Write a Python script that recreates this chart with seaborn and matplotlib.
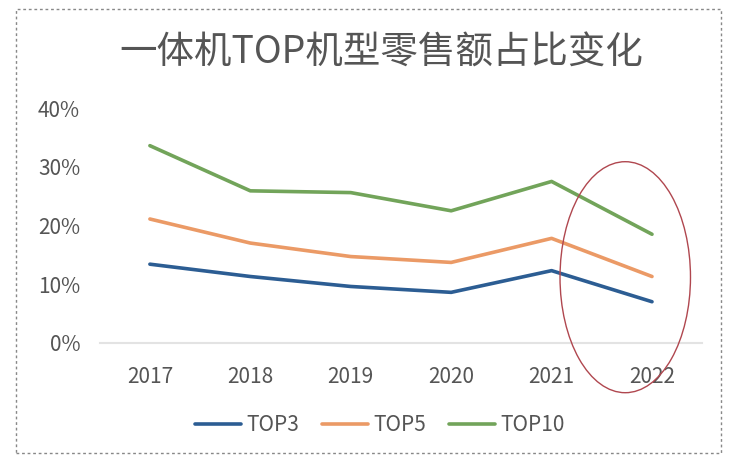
import matplotlib
matplotlib.use("Agg")
import matplotlib.pyplot as plt
import seaborn as sns
import pandas as pd
from matplotlib.patches import Ellipse, Rectangle
from matplotlib.ticker import PercentFormatter

years = ["2017", "2018", "2019", "2020", "2021", "2022"]
top3 = [13.4, 11.3, 9.6, 8.6, 12.3, 7.0]
top5 = [21.1, 17.0, 14.7, 13.7, 17.8, 11.3]
top10 = [33.6, 25.9, 25.6, 22.5, 27.5, 18.5]
series_names = ["TOP3", "TOP5", "TOP10"]
title = "一体机TOP机型零售额占比变化"
yticks = [0, 10, 20, 30, 40]

sns.set_theme(style="white")
plt.rcParams["font.family"] = ["Noto Sans CJK SC", "DejaVu Sans"]

df = pd.DataFrame({"year": years * 3,
                   "value": top3 + top5 + top10,
                   "series": [series_names[0]] * 6 + [series_names[1]] * 6 + [series_names[2]] * 6})

fig = plt.figure(figsize=(7.33, 4.62), dpi=100)
ax = fig.add_axes([0.136, 0.258, 0.822, 0.508])
palette = {"TOP3": "#2c5d93", "TOP5": "#eb9a66", "TOP10": "#72a45a"}
sns.lineplot(data=df, x="year", y="value", hue="series", palette=palette,
             linewidth=2.6, ax=ax, sort=False, legend=True)

ax.set_xlim(-0.5, 5.5)
ax.set_ylim(0, 40)
ax.set_yticks(yticks)
ax.yaxis.set_major_formatter(PercentFormatter(decimals=0))
ax.set_xlabel("")
ax.set_ylabel("")
for s in ["top", "right", "left"]:
    ax.spines[s].set_visible(False)
ax.spines["bottom"].set_color("#e3e3e3")
ax.spines["bottom"].set_linewidth(1.5)
ax.tick_params(axis="both", length=0, labelsize=15, colors="#555555")
ax.tick_params(axis="y", pad=14)
ax.tick_params(axis="x", pad=17)

leg = ax.legend(loc="upper center", bbox_to_anchor=(0.465, -0.225), ncol=3,
                frameon=False, fontsize=15,
                handlelength=2.2, columnspacing=1.1,
                handletextpad=0.25, labelcolor="#555555")
for line in leg.get_lines():
    line.set_linewidth(2.6)

fig.text(0.52, 0.885, title, ha="center", va="center", fontsize=27, color="#555555")

ell = Ellipse((0.853, 0.40), 0.178, 0.50, transform=fig.transFigure,
              fill=False, edgecolor="#b0474f", linewidth=1.0)
fig.patches.append(ell)

border = Rectangle((0.022, 0.02), 0.962, 0.96, transform=fig.transFigure,
                   fill=False, edgecolor="#888888", linestyle=(0, (2, 2)), linewidth=1.0)
fig.patches.append(border)

fig.savefig("out.png", dpi=100)
